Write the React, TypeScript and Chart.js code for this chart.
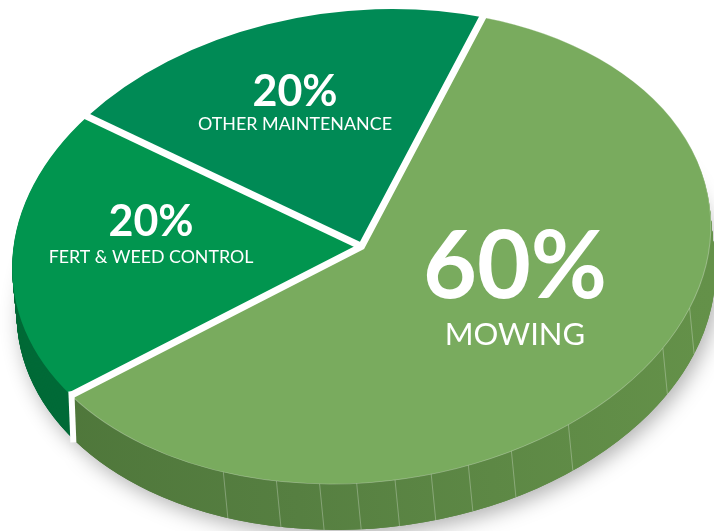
import React, { useEffect, useRef } from "react";
import { Chart, registerables } from "chart.js";

Chart.register(...registerables);

const categories = ["Mowing", "Fert & Weed Control", "Other Maintenance"];
const shares = [60, 20, 20];
const topColors = ["#79ab5e", "#01954f", "#008a55"];
const seamAngles = [198.2, 189, 181.8, 175.7, 169.4, 163.4, 157.1, 149.5, 138.6, 115.3, 105];
const percentLabels = ["60%", "20%", "20%"];
const nameLabels = ["MOWING", "FERT & WEED CONTROL", "OTHER MAINTENANCE"];

const W = 714;
const H = 531;
const CX = 361.5;
const CY = 246.5;
const M = { a: 348, b: 0, c: -31, d: 237.5 };
const DEPTH = 46;
const SLANT = 4.5;
const GAP = 7;

const labelLayout = [
  { x: 515, pctY: 298, pctFont: 93, nameY: 345, nameFont: 31 },
  { x: 151, pctY: 236, pctFont: 43, nameY: 263, nameFont: 17.8 },
  { x: 295, pctY: 106, pctFont: 43, nameY: 130, nameFont: 17.9 },
];

function project(ctx: CanvasRenderingContext2D, arc: any, dx: number, dy: number) {
  const R = arc.outerRadius;
  ctx.translate(CX + dx, CY + dy);
  ctx.transform(M.a / R, M.b / R, M.c / R, M.d / R, 0, 0);
  ctx.translate(-arc.x, -arc.y);
}

function drawTinted(ctx: CanvasRenderingContext2D, arc: any, fill: any) {
  const original = arc.options;
  arc.options = { ...original, backgroundColor: fill };
  arc.draw(ctx);
  arc.options = original;
}

function rimPoint(angle: number, scale = 1) {
  const u = Math.cos(angle) * scale;
  const v = Math.sin(angle) * scale;
  return { x: CX + M.a * u + M.c * v, y: CY + M.b * u + M.d * v };
}

const pie3d = {
  id: "pie3d",
  beforeDatasetsDraw(chart: any) {
    const ctx: CanvasRenderingContext2D = chart.ctx;
    const arcs = chart.getDatasetMeta(0).data;
    const R = arcs[0].outerRadius;
    const mowingSide = ctx.createLinearGradient(chart.width / 2 - R, 0, chart.width / 2 + R, 0);
    mowingSide.addColorStop(0, "#4d7539");
    mowingSide.addColorStop(0.45, "#567f41");
    mowingSide.addColorStop(1, "#649149");
    const sideFills = [mowingSide, "#006a37", "#006a3a"];

    // soft shadow under the bottom layer
    ctx.save();
    project(ctx, arcs[0], SLANT, DEPTH);
    ctx.shadowColor = "rgba(0,0,0,0.3)";
    ctx.shadowBlur = 20;
    ctx.shadowOffsetX = 4;
    ctx.shadowOffsetY = 6;
    arcs.forEach((arc: any, i: number) => drawTinted(ctx, arc, sideFills[i]));
    ctx.restore();

    // walls
    for (let k = DEPTH; k >= 1; k--) {
      ctx.save();
      project(ctx, arcs[0], (SLANT * k) / DEPTH, k);
      arcs.forEach((arc: any, i: number) => drawTinted(ctx, arc, sideFills[i]));
      ctx.restore();
    }

    ctx.save();
    ctx.strokeStyle = "rgba(255,255,255,0.28)";
    ctx.lineWidth = 1;
    seamAngles.forEach((deg) => {
      const p = rimPoint((deg * Math.PI) / 180 - Math.PI / 2);
      ctx.beginPath();
      ctx.moveTo(p.x, p.y);
      ctx.lineTo(p.x + SLANT, p.y + DEPTH);
      ctx.stroke();
    });
    ctx.restore();

    ctx.save();
    project(ctx, arcs[0], 0, 0);
  },
  afterDatasetsDraw(chart: any) {
    const ctx: CanvasRenderingContext2D = chart.ctx;
    const arcs = chart.getDatasetMeta(0).data;
    const mowing = arcs[0];
    // light rim along the front edge of the large slice (still in projected space)
    ctx.strokeStyle = "rgba(255,255,255,0.3)";
    ctx.lineWidth = 0.8;
    ctx.beginPath();
    ctx.arc(mowing.x, mowing.y, mowing.outerRadius, mowing.startAngle, mowing.endAngle);
    ctx.stroke();
    ctx.restore();

    // white separators between the slices, carried down the front wall
    ctx.save();
    ctx.strokeStyle = "#ffffff";
    ctx.lineWidth = GAP;
    ctx.lineJoin = "miter";
    ctx.lineCap = "butt";
    const a = rimPoint(arcs[0].startAngle, 1.03);
    const b = rimPoint(arcs[1].startAngle);
    const c = rimPoint(arcs[2].startAngle, 1.03);
    ctx.beginPath();
    ctx.moveTo(a.x, a.y);
    ctx.lineTo(CX, CY);
    ctx.lineTo(b.x, b.y);
    ctx.stroke();
    ctx.beginPath();
    ctx.moveTo(CX, CY);
    ctx.lineTo(c.x, c.y);
    ctx.stroke();
    ctx.lineWidth = 6;
    ctx.beginPath();
    ctx.moveTo(b.x + 0.5, b.y - 4);
    ctx.lineTo(b.x + 2.5, b.y + DEPTH + 1);
    ctx.stroke();
    ctx.restore();

    ctx.save();
    ctx.fillStyle = "#ffffff";
    ctx.textAlign = "center";
    ctx.textBaseline = "alphabetic";
    labelLayout.forEach((l, i) => {
      ctx.font = `700 ${l.pctFont}px Lato`;
      ctx.fillText(percentLabels[i], l.x, l.pctY);
      ctx.font = `400 ${l.nameFont}px Lato`;
      ctx.fillText(nameLabels[i], l.x, l.nameY);
    });
    ctx.restore();
  },
};

export default function App() {
  const ref = useRef<HTMLCanvasElement>(null);
  useEffect(() => {
    const chart = new Chart(ref.current as HTMLCanvasElement, {
      type: "pie",
      data: {
        labels: categories,
        datasets: [
          {
            data: shares,
            backgroundColor: topColors,
            borderWidth: 0,
          } as any,
        ],
      },
      options: {
        animation: false,
        responsive: false,
        rotation: 15.2,
        events: [],
        layout: { padding: 0 },
        plugins: { legend: { display: false }, tooltip: { enabled: false } },
      },
      plugins: [pie3d],
    });
    return () => chart.destroy();
  }, []);
  return (
    <div style={{ position: "fixed", left: 0, top: 0, width: W, height: H, background: "#fff" }}>
      <canvas ref={ref} width={W} height={H} style={{ display: "block" }} />
    </div>
  );
}
